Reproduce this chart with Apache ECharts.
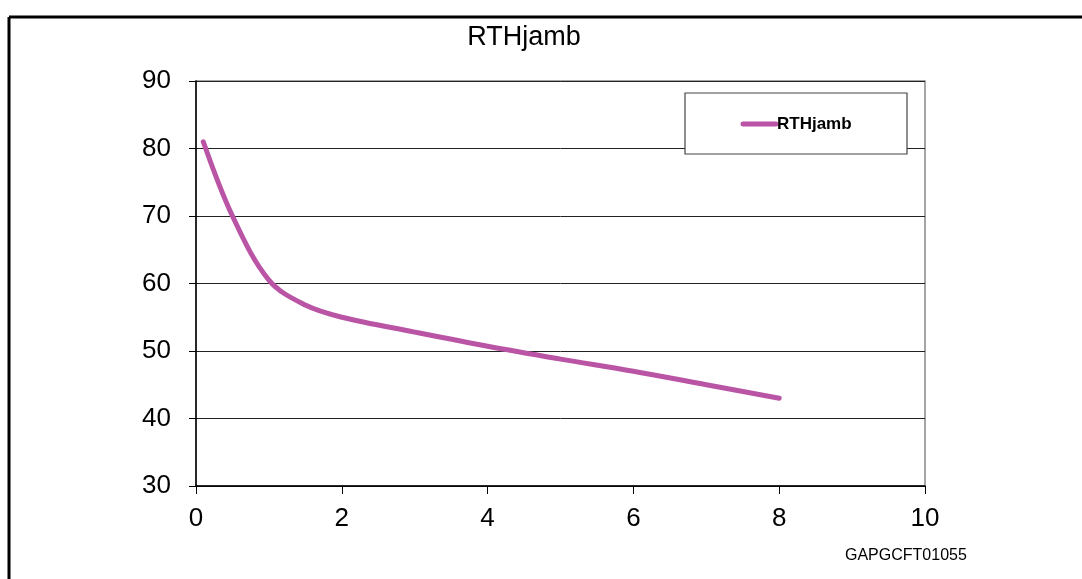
<!DOCTYPE html>
<html><head><meta charset="utf-8">
<script src="https://cdn.jsdelivr.net/npm/echarts@6/dist/echarts.min.js"></script>
<style>html,body{margin:0;padding:0;background:#fff}#c{width:1082px;height:579px}</style>
</head><body><div id="c"></div>
<script>
const seriesName = 'RTHjamb';
const xValues = [0.1, 0.5, 1, 1.5, 2, 3, 4, 5, 6, 7, 8];
const yValues = [81, 70, 60.5, 56.8, 55, 52.8, 50.7, 48.8, 47, 45, 43];
const chart = echarts.init(document.getElementById('c'));
const font = '"Liberation Sans", Arial, sans-serif';
chart.setOption({
  animation: false,
  grid: { left: 196, top: 81, right: 157, bottom: 93, show: true, borderColor: '#888', borderWidth: 1.5 },
  xAxis: { type: 'value', min: 0, max: 10, interval: 2,
    axisLine: { onZero: false, lineStyle: { color: '#000', width: 1.5 } },
    axisTick: { show: true, inside: false, length: 8, lineStyle: { color: '#000' } },
    axisLabel: { fontFamily: font, fontSize: 26, color: '#000', margin: 20 },
    splitLine: { show: false } },
  yAxis: { type: 'value', min: 30, max: 90, interval: 10,
    axisLine: { show: true, lineStyle: { color: '#000', width: 1.5 } },
    axisTick: { show: true, length: 7, lineStyle: { color: '#000' } },
    axisLabel: { fontFamily: font, fontSize: 26, color: '#000', margin: 25 },
    splitLine: { show: true, lineStyle: { color: '#222', width: 1 } } },
  legend: { show: false },
  series: [{ name: seriesName, type: 'line', smooth: 0.35, showSymbol: false,
    data: xValues.map((x, i) => [x, yValues[i]]),
    lineStyle: { color: '#BA55A6', width: 5, cap: 'round', join: 'round' }, itemStyle: { color: '#BA55A6' } }],
  graphic: [
    { type: 'line', shape: { x1: 9, y1: 17, x2: 1082, y2: 17 }, style: { stroke: '#000', lineWidth: 3 } },
    { type: 'line', shape: { x1: 9, y1: 17, x2: 9, y2: 579 }, style: { stroke: '#000', lineWidth: 3 } },
    { type: 'text', x: 524, y: 38, style: { text: 'RTHjamb', fontFamily: font, fontSize: 27, fill: '#000', align: 'center', verticalAlign: 'middle' } },
    { type: 'rect', shape: { x: 685, y: 93, width: 222, height: 61 }, style: { fill: '#fff', stroke: '#444', lineWidth: 1.2 }, z: 100 },
    { type: 'line', shape: { x1: 743, y1: 124, x2: 776, y2: 124 }, style: { stroke: '#BA55A6', lineWidth: 5, lineCap: 'round' }, z: 101 },
    { type: 'text', x: 777, y: 124, style: { text: seriesName, fontFamily: font, fontSize: 17, fontWeight: 'bold', fill: '#000', verticalAlign: 'middle' }, z: 101 },
    { type: 'text', x: 845, y: 556, style: { text: 'GAPGCFT01055', fontFamily: font, fontSize: 16, fill: '#000', verticalAlign: 'middle' } }
  ]
});
</script></body></html>
